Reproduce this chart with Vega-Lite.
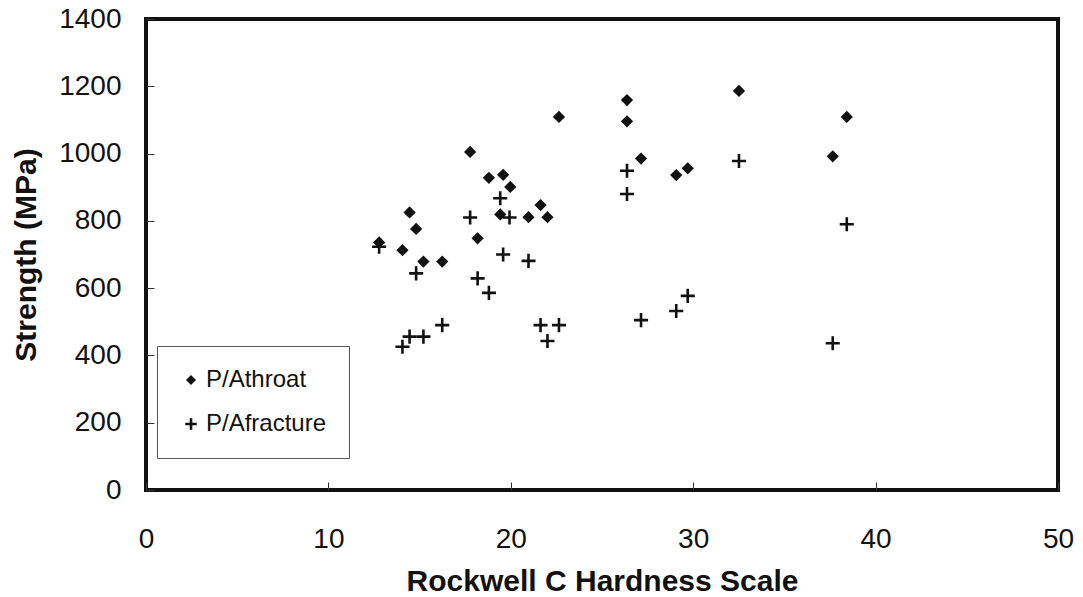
{
  "$schema": "https://vega.github.io/schema/vega-lite/v6.json",
  "width": 912,
  "height": 471,
  "autosize": "none",
  "padding": {"left": 146, "top": 19, "right": 25, "bottom": 107},
  "background": "white",
  "config": {
    "view": {"stroke": "#111111", "strokeWidth": 4},
    "font": "Liberation Sans",
    "axis": {
      "grid": false,
      "domain": false,
      "ticks": true,
      "tickSize": -8,
      "tickColor": "#333333",
      "tickWidth": 1,
      "labelFlush": false,
      "labelFont": "Liberation Sans",
      "labelFontSize": 28,
      "labelColor": "#111111",
      "format": "d",
      "titleFont": "Liberation Sans",
      "titleFontSize": 30,
      "titleFontWeight": "bold",
      "titleColor": "#111111"
    },
    "legend": {
      "labelFont": "Liberation Sans",
      "labelFontSize": 24,
      "labelColor": "#111111"
    }
  },
  "data": {
    "values": [
      {"x": 12.78, "y": 736, "series": "P/Athroat"},
      {"x": 14.06, "y": 713, "series": "P/Athroat"},
      {"x": 14.45, "y": 825, "series": "P/Athroat"},
      {"x": 14.81, "y": 776, "series": "P/Athroat"},
      {"x": 15.21, "y": 679, "series": "P/Athroat"},
      {"x": 16.24, "y": 679, "series": "P/Athroat"},
      {"x": 17.77, "y": 1005, "series": "P/Athroat"},
      {"x": 18.18, "y": 748, "series": "P/Athroat"},
      {"x": 18.8, "y": 928, "series": "P/Athroat"},
      {"x": 19.58, "y": 937, "series": "P/Athroat"},
      {"x": 19.97, "y": 901, "series": "P/Athroat"},
      {"x": 19.42, "y": 819, "series": "P/Athroat"},
      {"x": 20.97, "y": 811, "series": "P/Athroat"},
      {"x": 21.63, "y": 847, "series": "P/Athroat"},
      {"x": 22.01, "y": 811, "series": "P/Athroat"},
      {"x": 22.64, "y": 1109, "series": "P/Athroat"},
      {"x": 26.37, "y": 1159, "series": "P/Athroat"},
      {"x": 26.37, "y": 1096, "series": "P/Athroat"},
      {"x": 27.14, "y": 985, "series": "P/Athroat"},
      {"x": 29.07, "y": 936, "series": "P/Athroat"},
      {"x": 29.7, "y": 956, "series": "P/Athroat"},
      {"x": 32.51, "y": 1186, "series": "P/Athroat"},
      {"x": 37.65, "y": 992, "series": "P/Athroat"},
      {"x": 38.42, "y": 1109, "series": "P/Athroat"},
      {"x": 12.78, "y": 723, "series": "P/Afracture"},
      {"x": 14.81, "y": 644, "series": "P/Afracture"},
      {"x": 14.06, "y": 426, "series": "P/Afracture"},
      {"x": 14.45, "y": 456, "series": "P/Afracture"},
      {"x": 15.21, "y": 456, "series": "P/Afracture"},
      {"x": 16.24, "y": 490, "series": "P/Afracture"},
      {"x": 17.77, "y": 810, "series": "P/Afracture"},
      {"x": 18.18, "y": 629, "series": "P/Afracture"},
      {"x": 18.8, "y": 586, "series": "P/Afracture"},
      {"x": 19.42, "y": 867, "series": "P/Afracture"},
      {"x": 19.58, "y": 700, "series": "P/Afracture"},
      {"x": 19.93, "y": 810, "series": "P/Afracture"},
      {"x": 20.97, "y": 681, "series": "P/Afracture"},
      {"x": 21.63, "y": 490, "series": "P/Afracture"},
      {"x": 22.01, "y": 443, "series": "P/Afracture"},
      {"x": 22.64, "y": 490, "series": "P/Afracture"},
      {"x": 26.37, "y": 949, "series": "P/Afracture"},
      {"x": 26.37, "y": 880, "series": "P/Afracture"},
      {"x": 27.14, "y": 505, "series": "P/Afracture"},
      {"x": 29.07, "y": 532, "series": "P/Afracture"},
      {"x": 29.7, "y": 577, "series": "P/Afracture"},
      {"x": 32.51, "y": 978, "series": "P/Afracture"},
      {"x": 37.65, "y": 436, "series": "P/Afracture"},
      {"x": 38.42, "y": 790, "series": "P/Afracture"}
    ]
  },
  "mark": {"type": "point", "filled": true, "size": 150, "stroke": "#111111", "opacity": 1},
  "encoding": {
    "x": {
      "field": "x",
      "type": "quantitative",
      "scale": {"domain": [0, 50], "nice": false},
      "axis": {"values": [0, 10, 20, 30, 40, 50], "labelPadding": 43, "titleY": 100, "titleBaseline": "alphabetic"},
      "title": "Rockwell C Hardness Scale"
    },
    "y": {
      "field": "y",
      "type": "quantitative",
      "scale": {"domain": [0, 1400], "nice": false},
      "axis": {"values": [0, 200, 400, 600, 800, 1000, 1200, 1400], "labelPadding": 33, "titleX": -111, "titleBaseline": "alphabetic"},
      "title": "Strength (MPa)"
    },
    "shape": {
      "field": "series",
      "type": "nominal",
      "scale": {"domain": ["P/Athroat", "P/Afracture"], "range": ["diamond", "M-1.15,0H1.15M0,-1.15V1.15"]},
      "legend": {"title": null, "orient": "none", "legendX": 11, "legendY": 327, "strokeColor": "#555555", "fillColor": "white", "padding": 22, "rowPadding": 20, "labelOffset": 3, "symbolSize": 100}
    },
    "fill": {
      "field": "series",
      "type": "nominal",
      "scale": {"domain": ["P/Athroat", "P/Afracture"], "range": ["#111111", "transparent"]},
      "legend": {"title": null, "orient": "none", "legendX": 11, "legendY": 327, "strokeColor": "#555555", "fillColor": "white", "padding": 22, "rowPadding": 20, "labelOffset": 3, "symbolSize": 100}
    },
    "strokeWidth": {
      "field": "series",
      "type": "nominal",
      "scale": {"domain": ["P/Athroat", "P/Afracture"], "range": [0, 2.6]},
      "legend": {"title": null, "orient": "none", "legendX": 11, "legendY": 327, "strokeColor": "#555555", "fillColor": "white", "padding": 22, "rowPadding": 20, "labelOffset": 3, "symbolSize": 100}
    }
  }
}
